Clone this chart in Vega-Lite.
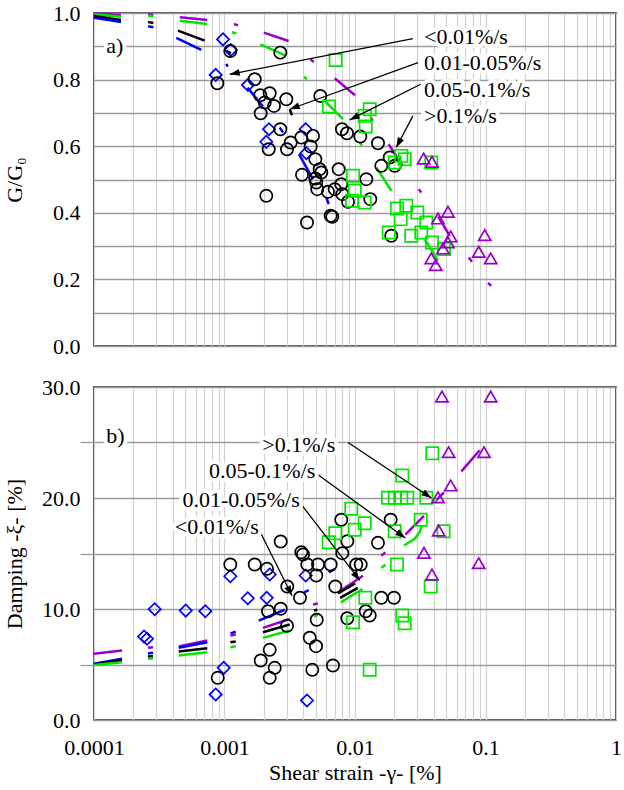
{
  "$schema": "https://vega.github.io/schema/vega-lite/v6.json",
  "background": "white",
  "padding": {"left": 2, "top": 1, "right": 0, "bottom": 0},
  "spacing": 17,
  "config": {
    "font": "Liberation Serif",
    "view": {"stroke": "#1a1a1a", "strokeWidth": 1.5},
    "axis": {"labelFont": "Liberation Serif", "titleFont": "Liberation Serif", "labelFontSize": 22, "titleFontSize": 22, "titleFontWeight": "normal", "labelColor": "black", "titleColor": "black", "labelOverlap": false}
  },
  "datasets": {
    "gpts": [
      {"rate": "<0.01%/s", "strain": 0.000974, "G": 0.921},
      {"rate": "<0.01%/s", "strain": 0.001116, "G": 0.889},
      {"rate": "<0.01%/s", "strain": 0.000856, "G": 0.814},
      {"rate": "<0.01%/s", "strain": 0.001514, "G": 0.784},
      {"rate": "<0.01%/s", "strain": 0.002193, "G": 0.651},
      {"rate": "<0.01%/s", "strain": 0.00209, "G": 0.613},
      {"rate": "<0.01%/s", "strain": 0.00419, "G": 0.651},
      {"rate": "<0.01%/s", "strain": 0.00424, "G": 0.579},
      {"rate": "0.01-0.05%/s", "strain": 0.001108, "G": 0.886},
      {"rate": "0.01-0.05%/s", "strain": 0.000881, "G": 0.789},
      {"rate": "0.01-0.05%/s", "strain": 0.002677, "G": 0.881},
      {"rate": "0.01-0.05%/s", "strain": 0.001704, "G": 0.801},
      {"rate": "0.01-0.05%/s", "strain": 0.00188, "G": 0.753},
      {"rate": "0.01-0.05%/s", "strain": 0.00222, "G": 0.759},
      {"rate": "0.01-0.05%/s", "strain": 0.002976, "G": 0.741},
      {"rate": "0.01-0.05%/s", "strain": 0.002395, "G": 0.721},
      {"rate": "0.01-0.05%/s", "strain": 0.001894, "G": 0.699},
      {"rate": "0.01-0.05%/s", "strain": 0.002032, "G": 0.731},
      {"rate": "0.01-0.05%/s", "strain": 0.00542, "G": 0.751},
      {"rate": "0.01-0.05%/s", "strain": 0.00795, "G": 0.651},
      {"rate": "0.01-0.05%/s", "strain": 0.00868, "G": 0.639},
      {"rate": "0.01-0.05%/s", "strain": 0.01098, "G": 0.629},
      {"rate": "0.01-0.05%/s", "strain": 0.015, "G": 0.609},
      {"rate": "0.01-0.05%/s", "strain": 0.002677, "G": 0.651},
      {"rate": "0.01-0.05%/s", "strain": 0.002182, "G": 0.591},
      {"rate": "0.01-0.05%/s", "strain": 0.003013, "G": 0.591},
      {"rate": "0.01-0.05%/s", "strain": 0.003216, "G": 0.611},
      {"rate": "0.01-0.05%/s", "strain": 0.003877, "G": 0.626},
      {"rate": "0.01-0.05%/s", "strain": 0.004767, "G": 0.631},
      {"rate": "0.01-0.05%/s", "strain": 0.004577, "G": 0.599},
      {"rate": "0.01-0.05%/s", "strain": 0.004965, "G": 0.561},
      {"rate": "0.01-0.05%/s", "strain": 0.005363, "G": 0.531},
      {"rate": "0.01-0.05%/s", "strain": 0.003925, "G": 0.514},
      {"rate": "0.01-0.05%/s", "strain": 0.005517, "G": 0.521},
      {"rate": "0.01-0.05%/s", "strain": 0.00505, "G": 0.491},
      {"rate": "0.01-0.05%/s", "strain": 0.00514, "G": 0.471},
      {"rate": "0.01-0.05%/s", "strain": 0.004965, "G": 0.503},
      {"rate": "0.01-0.05%/s", "strain": 0.0075, "G": 0.531},
      {"rate": "0.01-0.05%/s", "strain": 0.00621, "G": 0.463},
      {"rate": "0.01-0.05%/s", "strain": 0.00699, "G": 0.471},
      {"rate": "0.01-0.05%/s", "strain": 0.00785, "G": 0.486},
      {"rate": "0.01-0.05%/s", "strain": 0.00799, "G": 0.456},
      {"rate": "0.01-0.05%/s", "strain": 0.00884, "G": 0.433},
      {"rate": "0.01-0.05%/s", "strain": 0.01221, "G": 0.501},
      {"rate": "0.01-0.05%/s", "strain": 0.0131, "G": 0.441},
      {"rate": "0.01-0.05%/s", "strain": 0.002091, "G": 0.451},
      {"rate": "0.01-0.05%/s", "strain": 0.004288, "G": 0.371},
      {"rate": "0.01-0.05%/s", "strain": 0.00651, "G": 0.391},
      {"rate": "0.01-0.05%/s", "strain": 0.0067, "G": 0.388},
      {"rate": "0.01-0.05%/s", "strain": 0.01591, "G": 0.541},
      {"rate": "0.01-0.05%/s", "strain": 0.01897, "G": 0.331},
      {"rate": "0.01-0.05%/s", "strain": 0.01845, "G": 0.566},
      {"rate": "0.01-0.05%/s", "strain": 0.02015, "G": 0.541},
      {"rate": "0.05-0.1%/s", "strain": 0.00711, "G": 0.859},
      {"rate": "0.05-0.1%/s", "strain": 0.00632, "G": 0.719},
      {"rate": "0.05-0.1%/s", "strain": 0.01296, "G": 0.711},
      {"rate": "0.05-0.1%/s", "strain": 0.01187, "G": 0.691},
      {"rate": "0.05-0.1%/s", "strain": 0.01208, "G": 0.659},
      {"rate": "0.05-0.1%/s", "strain": 0.00965, "G": 0.511},
      {"rate": "0.05-0.1%/s", "strain": 0.00995, "G": 0.466},
      {"rate": "0.05-0.1%/s", "strain": 0.00948, "G": 0.436},
      {"rate": "0.05-0.1%/s", "strain": 0.01187, "G": 0.431},
      {"rate": "0.05-0.1%/s", "strain": 0.02263, "G": 0.571},
      {"rate": "0.05-0.1%/s", "strain": 0.02403, "G": 0.561},
      {"rate": "0.05-0.1%/s", "strain": 0.02015, "G": 0.551},
      {"rate": "0.05-0.1%/s", "strain": 0.03843, "G": 0.551},
      {"rate": "0.05-0.1%/s", "strain": 0.02098, "G": 0.413},
      {"rate": "0.05-0.1%/s", "strain": 0.02472, "G": 0.421},
      {"rate": "0.05-0.1%/s", "strain": 0.03, "G": 0.401},
      {"rate": "0.05-0.1%/s", "strain": 0.02239, "G": 0.381},
      {"rate": "0.05-0.1%/s", "strain": 0.03519, "G": 0.371},
      {"rate": "0.05-0.1%/s", "strain": 0.01813, "G": 0.341},
      {"rate": "0.05-0.1%/s", "strain": 0.027, "G": 0.331},
      {"rate": "0.05-0.1%/s", "strain": 0.03221, "G": 0.341},
      {"rate": "0.05-0.1%/s", "strain": 0.0389, "G": 0.311},
      {"rate": "0.05-0.1%/s", "strain": 0.0481, "G": 0.291},
      {"rate": ">0.1%/s", "strain": 0.0336, "G": 0.563},
      {"rate": ">0.1%/s", "strain": 0.0389, "G": 0.553},
      {"rate": ">0.1%/s", "strain": 0.04325, "G": 0.383},
      {"rate": ">0.1%/s", "strain": 0.0516, "G": 0.403},
      {"rate": ">0.1%/s", "strain": 0.0541, "G": 0.329},
      {"rate": ">0.1%/s", "strain": 0.0516, "G": 0.311},
      {"rate": ">0.1%/s", "strain": 0.04725, "G": 0.293},
      {"rate": ">0.1%/s", "strain": 0.03843, "G": 0.263},
      {"rate": ">0.1%/s", "strain": 0.04154, "G": 0.243},
      {"rate": ">0.1%/s", "strain": 0.0986, "G": 0.333},
      {"rate": ">0.1%/s", "strain": 0.0887, "G": 0.283},
      {"rate": ">0.1%/s", "strain": 0.1096, "G": 0.263}
    ],
    "glines": [
      {"rate": ">0.1%/s", "seg": "g1P", "strain": 0.0001, "G": 0.999}, {"rate": ">0.1%/s", "seg": "g1P", "strain": 0.000161, "G": 0.994},
      {"rate": "0.05-0.1%/s", "seg": "g1N", "strain": 0.0001, "G": 0.996}, {"rate": "0.05-0.1%/s", "seg": "g1N", "strain": 0.000161, "G": 0.989},
      {"rate": "0.01-0.05%/s", "seg": "g1K", "strain": 0.0001, "G": 0.991}, {"rate": "0.01-0.05%/s", "seg": "g1K", "strain": 0.000161, "G": 0.979},
      {"rate": "<0.01%/s", "seg": "g1B", "strain": 0.0001, "G": 0.986}, {"rate": "<0.01%/s", "seg": "g1B", "strain": 0.000161, "G": 0.973},
      {"rate": ">0.1%/s", "seg": "g2P", "strain": 0.00026, "G": 0.996}, {"rate": ">0.1%/s", "seg": "g2P", "strain": 0.000285, "G": 0.995},
      {"rate": "0.05-0.1%/s", "seg": "g2N", "strain": 0.00026, "G": 0.992}, {"rate": "0.05-0.1%/s", "seg": "g2N", "strain": 0.000285, "G": 0.990},
      {"rate": "0.01-0.05%/s", "seg": "g2K", "strain": 0.00026, "G": 0.973}, {"rate": "0.01-0.05%/s", "seg": "g2K", "strain": 0.000285, "G": 0.970},
      {"rate": "<0.01%/s", "seg": "g2B", "strain": 0.00026, "G": 0.960}, {"rate": "<0.01%/s", "seg": "g2B", "strain": 0.000285, "G": 0.957},
      {"rate": ">0.1%/s", "seg": "g3P", "strain": 0.000454, "G": 0.987}, {"rate": ">0.1%/s", "seg": "g3P", "strain": 0.000738, "G": 0.979},
      {"rate": "0.05-0.1%/s", "seg": "g3N", "strain": 0.000454, "G": 0.977}, {"rate": "0.05-0.1%/s", "seg": "g3N", "strain": 0.000738, "G": 0.967},
      {"rate": "0.01-0.05%/s", "seg": "g3K", "strain": 0.00044, "G": 0.947}, {"rate": "0.01-0.05%/s", "seg": "g3K", "strain": 0.000705, "G": 0.917},
      {"rate": "<0.01%/s", "seg": "g3B", "strain": 0.000427, "G": 0.925}, {"rate": "<0.01%/s", "seg": "g3B", "strain": 0.000664, "G": 0.889},
      {"rate": ">0.1%/s", "seg": "g4P", "strain": 0.00118, "G": 0.967}, {"rate": ">0.1%/s", "seg": "g4P", "strain": 0.00127, "G": 0.963},
      {"rate": "0.05-0.1%/s", "seg": "g4N", "strain": 0.00114, "G": 0.942}, {"rate": "0.05-0.1%/s", "seg": "g4N", "strain": 0.00123, "G": 0.939},
      {"rate": "0.01-0.05%/s", "seg": "g4K", "strain": 0.00103, "G": 0.886}, {"rate": "0.01-0.05%/s", "seg": "g4K", "strain": 0.00112, "G": 0.879},
      {"rate": "<0.01%/s", "seg": "g4B", "strain": 0.00103, "G": 0.847}, {"rate": "<0.01%/s", "seg": "g4B", "strain": 0.00106, "G": 0.839},
      {"rate": ">0.1%/s", "seg": "g5P", "strain": 0.002, "G": 0.941}, {"rate": ">0.1%/s", "seg": "g5P", "strain": 0.0031, "G": 0.916},
      {"rate": "0.05-0.1%/s", "seg": "g5N", "strain": 0.00188, "G": 0.906}, {"rate": "0.05-0.1%/s", "seg": "g5N", "strain": 0.00292, "G": 0.873},
      {"rate": "0.01-0.05%/s", "seg": "g5K", "strain": 0.00316, "G": 0.711}, {"rate": "0.01-0.05%/s", "seg": "g5K", "strain": 0.00329, "G": 0.693},
      {"rate": "<0.01%/s", "seg": "g5B", "strain": 0.0015, "G": 0.776}, {"rate": "<0.01%/s", "seg": "g5B", "strain": 0.00197, "G": 0.719},
      {"rate": ">0.1%/s", "seg": "g6P", "strain": 0.00454, "G": 0.861}, {"rate": ">0.1%/s", "seg": "g6P", "strain": 0.00485, "G": 0.853},
      {"rate": "0.05-0.1%/s", "seg": "g6N", "strain": 0.00407, "G": 0.809}, {"rate": "0.05-0.1%/s", "seg": "g6N", "strain": 0.00427, "G": 0.801},
      {"rate": "<0.01%/s", "seg": "g6B", "strain": 0.00265, "G": 0.656}, {"rate": "<0.01%/s", "seg": "g6B", "strain": 0.00281, "G": 0.641},
      {"rate": "<0.01%/s", "seg": "g7B", "strain": 0.00372, "G": 0.576}, {"rate": "<0.01%/s", "seg": "g7B", "strain": 0.00477, "G": 0.501},
      {"rate": "<0.01%/s", "seg": "g8B", "strain": 0.00603, "G": 0.446}, {"rate": "<0.01%/s", "seg": "g8B", "strain": 0.00629, "G": 0.426},
      {"rate": ">0.1%/s", "seg": "g7P", "strain": 0.00699, "G": 0.804}, {"rate": ">0.1%/s", "seg": "g7P", "strain": 0.01, "G": 0.753},
      {"rate": "0.05-0.1%/s", "seg": "g7N", "strain": 0.00579, "G": 0.738}, {"rate": "0.05-0.1%/s", "seg": "g7N", "strain": 0.00809, "G": 0.681},
      {"rate": "0.05-0.1%/s", "seg": "g8N", "strain": 0.0109, "G": 0.611}, {"rate": "0.05-0.1%/s", "seg": "g8N", "strain": 0.0113, "G": 0.601},
      {"rate": ">0.1%/s", "seg": "g8P", "strain": 0.0132, "G": 0.686}, {"rate": ">0.1%/s", "seg": "g8P", "strain": 0.0137, "G": 0.676},
      {"rate": "0.05-0.1%/s", "seg": "g9N", "strain": 0.0146, "G": 0.536}, {"rate": "0.05-0.1%/s", "seg": "g9N", "strain": 0.019, "G": 0.466},
      {"rate": ">0.1%/s", "seg": "g9P", "strain": 0.0181, "G": 0.606}, {"rate": ">0.1%/s", "seg": "g9P", "strain": 0.0233, "G": 0.541},
      {"rate": ">0.1%/s", "seg": "g10P", "strain": 0.0308, "G": 0.471}, {"rate": ">0.1%/s", "seg": "g10P", "strain": 0.0322, "G": 0.461},
      {"rate": ">0.1%/s", "seg": "g11P", "strain": 0.0433, "G": 0.389}, {"rate": ">0.1%/s", "seg": "g11P", "strain": 0.0532, "G": 0.331},
      {"rate": "0.05-0.1%/s", "seg": "g11N", "strain": 0.0342, "G": 0.321}, {"rate": "0.05-0.1%/s", "seg": "g11N", "strain": 0.0433, "G": 0.256},
      {"rate": ">0.1%/s", "seg": "g12P", "strain": 0.0743, "G": 0.266}, {"rate": ">0.1%/s", "seg": "g12P", "strain": 0.0788, "G": 0.253},
      {"rate": ">0.1%/s", "seg": "g13P", "strain": 0.1045, "G": 0.189}, {"rate": ">0.1%/s", "seg": "g13P", "strain": 0.1107, "G": 0.181}
    ],
    "garrows": [
      {"strain": 0.0278, "G": 0.923, "strain2": 0.001096, "G2": 0.816},
      {"strain": 0.0304, "G": 0.851, "strain2": 0.00316, "G2": 0.711},
      {"strain": 0.0319, "G": 0.786, "strain2": 0.0091, "G2": 0.679},
      {"strain": 0.0278, "G": 0.691, "strain2": 0.0207, "G2": 0.596}
    ],
    "glabels": [
      {"t": "<0.01%/s", "strain": 0.0338, "G": 0.929},
      {"t": "0.01-0.05%/s", "strain": 0.0338, "G": 0.851},
      {"t": "0.05-0.1%/s", "strain": 0.0338, "G": 0.769},
      {"t": ">0.1%/s", "strain": 0.0338, "G": 0.691},
      {"t": "a)", "strain": 0.000124, "G": 0.9}
    ],
    "dpts": [
      {"rate": "<0.01%/s", "strain": 0.0002918, "D": 9.98},
      {"rate": "<0.01%/s", "strain": 0.0005045, "D": 9.86},
      {"rate": "<0.01%/s", "strain": 0.000713, "D": 9.8},
      {"rate": "<0.01%/s", "strain": 0.0002416, "D": 7.52},
      {"rate": "<0.01%/s", "strain": 0.0002548, "D": 7.32},
      {"rate": "<0.01%/s", "strain": 0.000986, "D": 4.7},
      {"rate": "<0.01%/s", "strain": 0.000856, "D": 2.3},
      {"rate": "<0.01%/s", "strain": 0.001108, "D": 12.95},
      {"rate": "<0.01%/s", "strain": 0.001506, "D": 10.97},
      {"rate": "<0.01%/s", "strain": 0.002106, "D": 11.01},
      {"rate": "<0.01%/s", "strain": 0.00222, "D": 13.11},
      {"rate": "<0.01%/s", "strain": 0.00419, "D": 13.02},
      {"rate": "<0.01%/s", "strain": 0.004288, "D": 1.76},
      {"rate": "0.01-0.05%/s", "strain": 0.001108, "D": 14.01},
      {"rate": "0.01-0.05%/s", "strain": 0.001704, "D": 14.01},
      {"rate": "0.01-0.05%/s", "strain": 0.002117, "D": 13.62},
      {"rate": "0.01-0.05%/s", "strain": 0.003028, "D": 12.03},
      {"rate": "0.01-0.05%/s", "strain": 0.003789, "D": 11.01},
      {"rate": "0.01-0.05%/s", "strain": 0.002154, "D": 9.8},
      {"rate": "0.01-0.05%/s", "strain": 0.002696, "D": 10.02},
      {"rate": "0.01-0.05%/s", "strain": 0.003012, "D": 8.49},
      {"rate": "0.01-0.05%/s", "strain": 0.00222, "D": 6.32},
      {"rate": "0.01-0.05%/s", "strain": 0.001894, "D": 5.36},
      {"rate": "0.01-0.05%/s", "strain": 0.002425, "D": 4.7},
      {"rate": "0.01-0.05%/s", "strain": 0.00222, "D": 3.8},
      {"rate": "0.01-0.05%/s", "strain": 0.000887, "D": 3.8},
      {"rate": "0.01-0.05%/s", "strain": 0.005088, "D": 9.03},
      {"rate": "0.01-0.05%/s", "strain": 0.004498, "D": 7.41},
      {"rate": "0.01-0.05%/s", "strain": 0.005025, "D": 6.65},
      {"rate": "0.01-0.05%/s", "strain": 0.004708, "D": 4.52},
      {"rate": "0.01-0.05%/s", "strain": 0.00678, "D": 4.91},
      {"rate": "0.01-0.05%/s", "strain": 0.003877, "D": 15.12},
      {"rate": "0.01-0.05%/s", "strain": 0.003995, "D": 14.91},
      {"rate": "0.01-0.05%/s", "strain": 0.00431, "D": 14.01},
      {"rate": "0.01-0.05%/s", "strain": 0.005206, "D": 14.01},
      {"rate": "0.01-0.05%/s", "strain": 0.00651, "D": 14.01},
      {"rate": "0.01-0.05%/s", "strain": 0.00505, "D": 13.02},
      {"rate": "0.01-0.05%/s", "strain": 0.00706, "D": 12.03},
      {"rate": "0.01-0.05%/s", "strain": 0.00785, "D": 18.04},
      {"rate": "0.01-0.05%/s", "strain": 0.00873, "D": 16.11},
      {"rate": "0.01-0.05%/s", "strain": 0.00799, "D": 15.03},
      {"rate": "0.01-0.05%/s", "strain": 0.01878, "D": 18.04},
      {"rate": "0.01-0.05%/s", "strain": 0.015, "D": 15.96},
      {"rate": "0.01-0.05%/s", "strain": 0.01023, "D": 14.01},
      {"rate": "0.01-0.05%/s", "strain": 0.01106, "D": 14.01},
      {"rate": "0.01-0.05%/s", "strain": 0.01591, "D": 11.01},
      {"rate": "0.01-0.05%/s", "strain": 0.0199, "D": 11.01},
      {"rate": "0.01-0.05%/s", "strain": 0.00873, "D": 9.17},
      {"rate": "0.01-0.05%/s", "strain": 0.01208, "D": 9.8},
      {"rate": "0.01-0.05%/s", "strain": 0.01296, "D": 9.41},
      {"rate": "0.01-0.05%/s", "strain": 0.002696, "D": 16.08},
      {"rate": "0.05-0.1%/s", "strain": 0.03911, "D": 24.04},
      {"rate": "0.05-0.1%/s", "strain": 0.02304, "D": 22.03},
      {"rate": "0.05-0.1%/s", "strain": 0.0179, "D": 20.02},
      {"rate": "0.05-0.1%/s", "strain": 0.02015, "D": 20.02},
      {"rate": "0.05-0.1%/s", "strain": 0.02263, "D": 20.02},
      {"rate": "0.05-0.1%/s", "strain": 0.02516, "D": 20.02},
      {"rate": "0.05-0.1%/s", "strain": 0.03519, "D": 20.02},
      {"rate": "0.05-0.1%/s", "strain": 0.03187, "D": 18.04},
      {"rate": "0.05-0.1%/s", "strain": 0.02015, "D": 17.01},
      {"rate": "0.05-0.1%/s", "strain": 0.04775, "D": 17.01},
      {"rate": "0.05-0.1%/s", "strain": 0.02098, "D": 14.01},
      {"rate": "0.05-0.1%/s", "strain": 0.03802, "D": 12.03},
      {"rate": "0.05-0.1%/s", "strain": 0.012, "D": 11.01},
      {"rate": "0.05-0.1%/s", "strain": 0.02304, "D": 9.41},
      {"rate": "0.05-0.1%/s", "strain": 0.02403, "D": 8.72},
      {"rate": "0.05-0.1%/s", "strain": 0.00965, "D": 8.81},
      {"rate": "0.05-0.1%/s", "strain": 0.01296, "D": 4.52},
      {"rate": "0.05-0.1%/s", "strain": 0.00937, "D": 19.03},
      {"rate": "0.05-0.1%/s", "strain": 0.01187, "D": 17.73},
      {"rate": "0.05-0.1%/s", "strain": 0.00995, "D": 17.14},
      {"rate": "0.05-0.1%/s", "strain": 0.00706, "D": 16.83},
      {"rate": "0.05-0.1%/s", "strain": 0.00629, "D": 16.02},
      {"rate": ">0.1%/s", "strain": 0.0464, "D": 29.14},
      {"rate": ">0.1%/s", "strain": 0.1096, "D": 29.14},
      {"rate": ">0.1%/s", "strain": 0.0522, "D": 24.13},
      {"rate": ">0.1%/s", "strain": 0.0974, "D": 24.13},
      {"rate": ">0.1%/s", "strain": 0.0541, "D": 21.13},
      {"rate": ">0.1%/s", "strain": 0.04325, "D": 20.07},
      {"rate": ">0.1%/s", "strain": 0.0438, "D": 17.07},
      {"rate": ">0.1%/s", "strain": 0.03378, "D": 15.06},
      {"rate": ">0.1%/s", "strain": 0.0389, "D": 13.11},
      {"rate": ">0.1%/s", "strain": 0.0887, "D": 14.13}
    ],
    "dlines": [
      {"rate": ">0.1%/s", "seg": "d1P", "strain": 0.0001, "D": 5.96}, {"rate": ">0.1%/s", "seg": "d1P", "strain": 0.000164, "D": 6.26},
      {"rate": "<0.01%/s", "seg": "d1B", "strain": 0.0001, "D": 5.06}, {"rate": "<0.01%/s", "seg": "d1B", "strain": 0.000164, "D": 5.51},
      {"rate": "0.01-0.05%/s", "seg": "d1K", "strain": 0.0001, "D": 5.0}, {"rate": "0.01-0.05%/s", "seg": "d1K", "strain": 0.000164, "D": 5.4},
      {"rate": "0.05-0.1%/s", "seg": "d1N", "strain": 0.0001, "D": 4.95}, {"rate": "0.05-0.1%/s", "seg": "d1N", "strain": 0.000164, "D": 5.2},
      {"rate": ">0.1%/s", "seg": "d2P", "strain": 0.000259, "D": 6.5}, {"rate": ">0.1%/s", "seg": "d2P", "strain": 0.000283, "D": 6.56},
      {"rate": "<0.01%/s", "seg": "d2B", "strain": 0.000259, "D": 6.0}, {"rate": "<0.01%/s", "seg": "d2B", "strain": 0.000283, "D": 6.06},
      {"rate": "0.01-0.05%/s", "seg": "d2K", "strain": 0.000259, "D": 5.72}, {"rate": "0.01-0.05%/s", "seg": "d2K", "strain": 0.000283, "D": 5.75},
      {"rate": "0.05-0.1%/s", "seg": "d2N", "strain": 0.000259, "D": 5.51}, {"rate": "0.05-0.1%/s", "seg": "d2N", "strain": 0.000283, "D": 5.55},
      {"rate": ">0.1%/s", "seg": "d3P", "strain": 0.000446, "D": 6.62}, {"rate": ">0.1%/s", "seg": "d3P", "strain": 0.000738, "D": 7.16},
      {"rate": "<0.01%/s", "seg": "d3B", "strain": 0.000446, "D": 6.5}, {"rate": "<0.01%/s", "seg": "d3B", "strain": 0.000738, "D": 7.0},
      {"rate": "0.01-0.05%/s", "seg": "d3K", "strain": 0.000446, "D": 6.17}, {"rate": "0.01-0.05%/s", "seg": "d3K", "strain": 0.000738, "D": 6.47},
      {"rate": "0.05-0.1%/s", "seg": "d3N", "strain": 0.000446, "D": 5.81}, {"rate": "0.05-0.1%/s", "seg": "d3N", "strain": 0.000738, "D": 6.11},
      {"rate": "<0.01%/s", "seg": "d4B", "strain": 0.00111, "D": 7.8}, {"rate": "<0.01%/s", "seg": "d4B", "strain": 0.00122, "D": 7.95},
      {"rate": ">0.1%/s", "seg": "d4P", "strain": 0.00111, "D": 7.6}, {"rate": ">0.1%/s", "seg": "d4P", "strain": 0.00122, "D": 7.7},
      {"rate": "0.01-0.05%/s", "seg": "d4K", "strain": 0.00111, "D": 7.0}, {"rate": "0.01-0.05%/s", "seg": "d4K", "strain": 0.00122, "D": 7.07},
      {"rate": "0.05-0.1%/s", "seg": "d4N", "strain": 0.00111, "D": 6.56}, {"rate": "0.05-0.1%/s", "seg": "d4N", "strain": 0.00122, "D": 6.65},
      {"rate": "<0.01%/s", "seg": "d5B", "strain": 0.00183, "D": 8.96}, {"rate": "<0.01%/s", "seg": "d5B", "strain": 0.00289, "D": 9.93},
      {"rate": ">0.1%/s", "seg": "d5P", "strain": 0.00197, "D": 8.3}, {"rate": ">0.1%/s", "seg": "d5P", "strain": 0.00316, "D": 9.1},
      {"rate": "0.01-0.05%/s", "seg": "d5K", "strain": 0.00197, "D": 7.9}, {"rate": "0.01-0.05%/s", "seg": "d5K", "strain": 0.00316, "D": 8.6},
      {"rate": "0.05-0.1%/s", "seg": "d5N", "strain": 0.00197, "D": 7.4}, {"rate": "0.05-0.1%/s", "seg": "d5N", "strain": 0.00316, "D": 8.06},
      {"rate": "<0.01%/s", "seg": "d6B", "strain": 0.00407, "D": 11.5}, {"rate": "<0.01%/s", "seg": "d6B", "strain": 0.00442, "D": 11.7},
      {"rate": ">0.1%/s", "seg": "d6P", "strain": 0.00477, "D": 10.4}, {"rate": ">0.1%/s", "seg": "d6P", "strain": 0.00519, "D": 10.5},
      {"rate": "0.01-0.05%/s", "seg": "d6K", "strain": 0.00485, "D": 9.86}, {"rate": "0.01-0.05%/s", "seg": "d6K", "strain": 0.00514, "D": 9.93},
      {"rate": "0.05-0.1%/s", "seg": "d6N", "strain": 0.00485, "D": 9.3}, {"rate": "0.05-0.1%/s", "seg": "d6N", "strain": 0.00519, "D": 9.5},
      {"rate": "<0.01%/s", "seg": "d7B", "strain": 0.00629, "D": 13.3}, {"rate": "<0.01%/s", "seg": "d7B", "strain": 0.00699, "D": 13.6},
      {"rate": ">0.1%/s", "seg": "d7P", "strain": 0.00763, "D": 11.6}, {"rate": ">0.1%/s", "seg": "d7P", "strain": 0.0115, "D": 13.0},
      {"rate": "0.01-0.05%/s", "seg": "d7K", "strain": 0.00741, "D": 11.4}, {"rate": "0.01-0.05%/s", "seg": "d7K", "strain": 0.01, "D": 12.3},
      {"rate": "0.01-0.05%/s", "seg": "d7K2", "strain": 0.0077, "D": 11.0}, {"rate": "0.01-0.05%/s", "seg": "d7K2", "strain": 0.0105, "D": 11.9},
      {"rate": "0.05-0.1%/s", "seg": "d7N", "strain": 0.0078, "D": 10.6}, {"rate": "0.05-0.1%/s", "seg": "d7N", "strain": 0.0114, "D": 11.8},
      {"rate": ">0.1%/s", "seg": "d8P", "strain": 0.0159, "D": 14.8}, {"rate": ">0.1%/s", "seg": "d8P", "strain": 0.0171, "D": 15.1},
      {"rate": "0.05-0.1%/s", "seg": "d8N", "strain": 0.0159, "D": 13.7}, {"rate": "0.05-0.1%/s", "seg": "d8N", "strain": 0.0171, "D": 14.0},
      {"rate": ">0.1%/s", "seg": "d9P", "strain": 0.0243, "D": 16.7}, {"rate": ">0.1%/s", "seg": "d9P", "strain": 0.0338, "D": 18.4},
      {"rate": "0.05-0.1%/s", "seg": "d9N", "strain": 0.02374, "D": 15.72}, {"rate": "0.05-0.1%/s", "seg": "d9N", "strain": 0.02867, "D": 16.32},
      {"rate": "0.05-0.1%/s", "seg": "d9N", "strain": 0.0313, "D": 16.92}, {"rate": "0.05-0.1%/s", "seg": "d9N", "strain": 0.03262, "D": 17.57},
      {"rate": ">0.1%/s", "seg": "d10P", "strain": 0.042, "D": 19.8}, {"rate": ">0.1%/s", "seg": "d10P", "strain": 0.0481, "D": 20.5},
      {"rate": "0.05-0.1%/s", "seg": "d10N", "strain": 0.0408, "D": 19.6}, {"rate": "0.05-0.1%/s", "seg": "d10N", "strain": 0.0427, "D": 19.8},
      {"rate": ">0.1%/s", "seg": "d11P", "strain": 0.0653, "D": 22.4}, {"rate": ">0.1%/s", "seg": "d11P", "strain": 0.0903, "D": 24.3}
    ],
    "darrows": [
      {"strain": 0.00884, "D": 25.0, "strain2": 0.0385, "D2": 20.0},
      {"strain": 0.00505, "D": 22.2, "strain2": 0.0243, "D2": 16.4},
      {"strain": 0.00377, "D": 19.6, "strain2": 0.0109, "D2": 12.57},
      {"strain": 0.00183, "D": 17.2, "strain2": 0.00329, "D2": 11.2}
    ],
    "dlabels": [
      {"t": ">0.1%/s", "strain": 0.00706, "D": 24.73},
      {"t": "0.05-0.1%/s", "strain": 0.004965, "D": 22.41},
      {"t": "0.01-0.05%/s", "strain": 0.00377, "D": 19.84},
      {"t": "<0.01%/s", "strain": 0.00183, "D": 17.43}
    ],
    "dtag": [
      {"t": "b)", "strain": 0.000124, "D": 25.6}
    ]
  },
  "vconcat": [
    {
      "width": 522,
      "height": 333,
      "encoding": {
        "x": {"field": "strain", "type": "quantitative", "scale": {"type": "log", "domain": [0.0001, 1], "nice": false},
          "axis": {"title": null, "labels": false, "ticks": false, "tickSize": 0, "domain": false, "grid": true, "gridColor": "#d2d2d2", "gridWidth": 1.2,
            "values": [0.0001, 0.0002, 0.0003, 0.0004, 0.0005, 0.0006, 0.0007, 0.0008, 0.0009, 0.001, 0.002, 0.003, 0.004, 0.005, 0.006, 0.007, 0.008, 0.009, 0.01, 0.02, 0.03, 0.04, 0.05, 0.06, 0.07, 0.08, 0.09, 0.1, 0.2, 0.3, 0.4, 0.5, 0.6, 0.7, 0.8, 0.9, 1]}},
        "y": {"field": "G", "type": "quantitative", "scale": {"domain": [0, 1], "nice": false},
          "axis": {"title": "G/G₀", "titleX": -68, "values": [0, 0.1, 0.2, 0.3, 0.4, 0.5, 0.6, 0.7, 0.8, 0.9, 1], "labelExpr": "round(datum.value*10) % 2 == 0 ? format(datum.value, '.1f') : ''",
            "ticks": false, "tickSize": 0, "labelPadding": 14, "domain": false, "grid": true, "gridColor": "#9a9a9a", "gridWidth": 1.3}}
      },
      "layer": [
        {"data": {"name": "glines"}, "mark": {"type": "line", "strokeWidth": 2.5},
          "encoding": {"detail": {"field": "seg"},
            "color": {"field": "rate", "type": "nominal", "legend": null, "scale": {"domain": ["<0.01%/s", "0.01-0.05%/s", "0.05-0.1%/s", ">0.1%/s"], "range": ["#0000ff", "#000000", "#00e600", "#9900cc"]}}}},
        {"data": {"name": "gpts"}, "mark": {"type": "point", "filled": false, "strokeWidth": 1.7, "opacity": 1},
          "encoding": {
            "color": {"field": "rate", "type": "nominal", "legend": null, "scale": {"domain": ["<0.01%/s", "0.01-0.05%/s", "0.05-0.1%/s", ">0.1%/s"], "range": ["#0000ff", "#000000", "#00e600", "#9900cc"]}},
            "shape": {"field": "rate", "type": "nominal", "legend": null, "scale": {"domain": ["<0.01%/s", "0.01-0.05%/s", "0.05-0.1%/s", ">0.1%/s"], "range": ["diamond", "circle", "square", "triangle-up"]}},
            "size": {"field": "rate", "type": "nominal", "legend": null, "scale": {"domain": ["<0.01%/s", "0.01-0.05%/s", "0.05-0.1%/s", ">0.1%/s"], "range": [150, 150, 190, 110]}}}},
        {"data": {"name": "garrows"}, "mark": {"type": "rule", "color": "black", "strokeWidth": 1.3},
          "encoding": {"x2": {"field": "strain2"}, "y2": {"field": "G2"}}},
        {"data": {"name": "garrows"},
          "transform": [{"calculate": "atan2(130.5*log(datum.strain2/datum.strain)/LN10, (datum.G2-datum.G)*333.3)*180/PI", "as": "ang"}],
          "mark": {"type": "point", "shape": "M0,0L-0.7,2L0.7,2Z", "filled": true, "color": "black", "opacity": 1, "size": 100, "strokeWidth": 0},
          "encoding": {"x": {"field": "strain2", "type": "quantitative"}, "y": {"field": "G2", "type": "quantitative"}, "angle": {"field": "ang", "type": "quantitative", "scale": null}}},
        {"data": {"name": "glabels"}, "mark": {"type": "text", "align": "left", "baseline": "middle", "font": "Liberation Serif", "fontSize": 22, "color": "white", "stroke": "white", "strokeWidth": 8, "strokeJoin": "round"},
          "encoding": {"text": {"field": "t"}}},
        {"data": {"name": "glabels"}, "mark": {"type": "text", "align": "left", "baseline": "middle", "font": "Liberation Serif", "fontSize": 22, "color": "black"},
          "encoding": {"text": {"field": "t"}}}
      ]
    },
    {
      "width": 522,
      "height": 333,
      "encoding": {
        "x": {"field": "strain", "type": "quantitative", "scale": {"type": "log", "domain": [0.0001, 1], "nice": false},
          "axis": {"title": "Shear strain -γ- [%]", "labelExpr": "abs(log(datum.value)/LN10 - round(log(datum.value)/LN10)) < 0.001 ? format(datum.value, '~f') : ''", "labelFlush": false,
            "ticks": false, "tickSize": 0, "labelPadding": 17, "titlePadding": 4, "domain": false, "grid": true, "gridColor": "#d2d2d2", "gridWidth": 1.2,
            "values": [0.0001, 0.0002, 0.0003, 0.0004, 0.0005, 0.0006, 0.0007, 0.0008, 0.0009, 0.001, 0.002, 0.003, 0.004, 0.005, 0.006, 0.007, 0.008, 0.009, 0.01, 0.02, 0.03, 0.04, 0.05, 0.06, 0.07, 0.08, 0.09, 0.1, 0.2, 0.3, 0.4, 0.5, 0.6, 0.7, 0.8, 0.9, 1]}},
        "y": {"field": "D", "type": "quantitative", "scale": {"domain": [0, 30], "nice": false},
          "axis": {"title": "Damping -ξ- [%]", "titleX": -68, "values": [0, 5, 10, 15, 20, 25, 30], "labelExpr": "datum.value % 10 == 0 ? format(datum.value, '.1f') : ''",
            "ticks": true, "tickSize": 14, "tickColor": "#9a9a9a", "tickWidth": 1.3, "tickOpacity": {"condition": {"test": "datum.value % 10 == 0", "value": 0}, "value": 1},
            "labelPadding": 0, "domain": false, "grid": true, "gridColor": "#9a9a9a", "gridWidth": 1.3}}
      },
      "layer": [
        {"data": {"name": "dlines"}, "mark": {"type": "line", "strokeWidth": 2.5},
          "encoding": {"detail": {"field": "seg"},
            "color": {"field": "rate", "type": "nominal", "legend": null, "scale": {"domain": ["<0.01%/s", "0.01-0.05%/s", "0.05-0.1%/s", ">0.1%/s"], "range": ["#0000ff", "#000000", "#00e600", "#9900cc"]}}}},
        {"data": {"name": "dpts"}, "mark": {"type": "point", "filled": false, "strokeWidth": 1.7, "opacity": 1},
          "encoding": {
            "color": {"field": "rate", "type": "nominal", "legend": null, "scale": {"domain": ["<0.01%/s", "0.01-0.05%/s", "0.05-0.1%/s", ">0.1%/s"], "range": ["#0000ff", "#000000", "#00e600", "#9900cc"]}},
            "shape": {"field": "rate", "type": "nominal", "legend": null, "scale": {"domain": ["<0.01%/s", "0.01-0.05%/s", "0.05-0.1%/s", ">0.1%/s"], "range": ["diamond", "circle", "square", "triangle-up"]}},
            "size": {"field": "rate", "type": "nominal", "legend": null, "scale": {"domain": ["<0.01%/s", "0.01-0.05%/s", "0.05-0.1%/s", ">0.1%/s"], "range": [150, 150, 190, 110]}}}},
        {"data": {"name": "darrows"}, "mark": {"type": "rule", "color": "black", "strokeWidth": 1.3},
          "encoding": {"x2": {"field": "strain2"}, "y2": {"field": "D2"}}},
        {"data": {"name": "darrows"},
          "transform": [{"calculate": "atan2(130.5*log(datum.strain2/datum.strain)/LN10, (datum.D2-datum.D)*11.1)*180/PI", "as": "ang"}],
          "mark": {"type": "point", "shape": "M0,0L-0.7,2L0.7,2Z", "filled": true, "color": "black", "opacity": 1, "size": 100, "strokeWidth": 0},
          "encoding": {"x": {"field": "strain2", "type": "quantitative"}, "y": {"field": "D2", "type": "quantitative"}, "angle": {"field": "ang", "type": "quantitative", "scale": null}}},
        {"data": {"name": "dlabels"}, "mark": {"type": "text", "align": "right", "baseline": "middle", "font": "Liberation Serif", "fontSize": 22, "color": "white", "stroke": "white", "strokeWidth": 8, "strokeJoin": "round"},
          "encoding": {"text": {"field": "t"}}},
        {"data": {"name": "dlabels"}, "mark": {"type": "text", "align": "right", "baseline": "middle", "font": "Liberation Serif", "fontSize": 22, "color": "black"},
          "encoding": {"text": {"field": "t"}}},
        {"data": {"name": "dtag"}, "mark": {"type": "text", "align": "left", "baseline": "middle", "font": "Liberation Serif", "fontSize": 22, "color": "white", "stroke": "white", "strokeWidth": 8, "strokeJoin": "round"},
          "encoding": {"text": {"field": "t"}}},
        {"data": {"name": "dtag"}, "mark": {"type": "text", "align": "left", "baseline": "middle", "font": "Liberation Serif", "fontSize": 22, "color": "black"},
          "encoding": {"text": {"field": "t"}}}
      ]
    }
  ]
}
